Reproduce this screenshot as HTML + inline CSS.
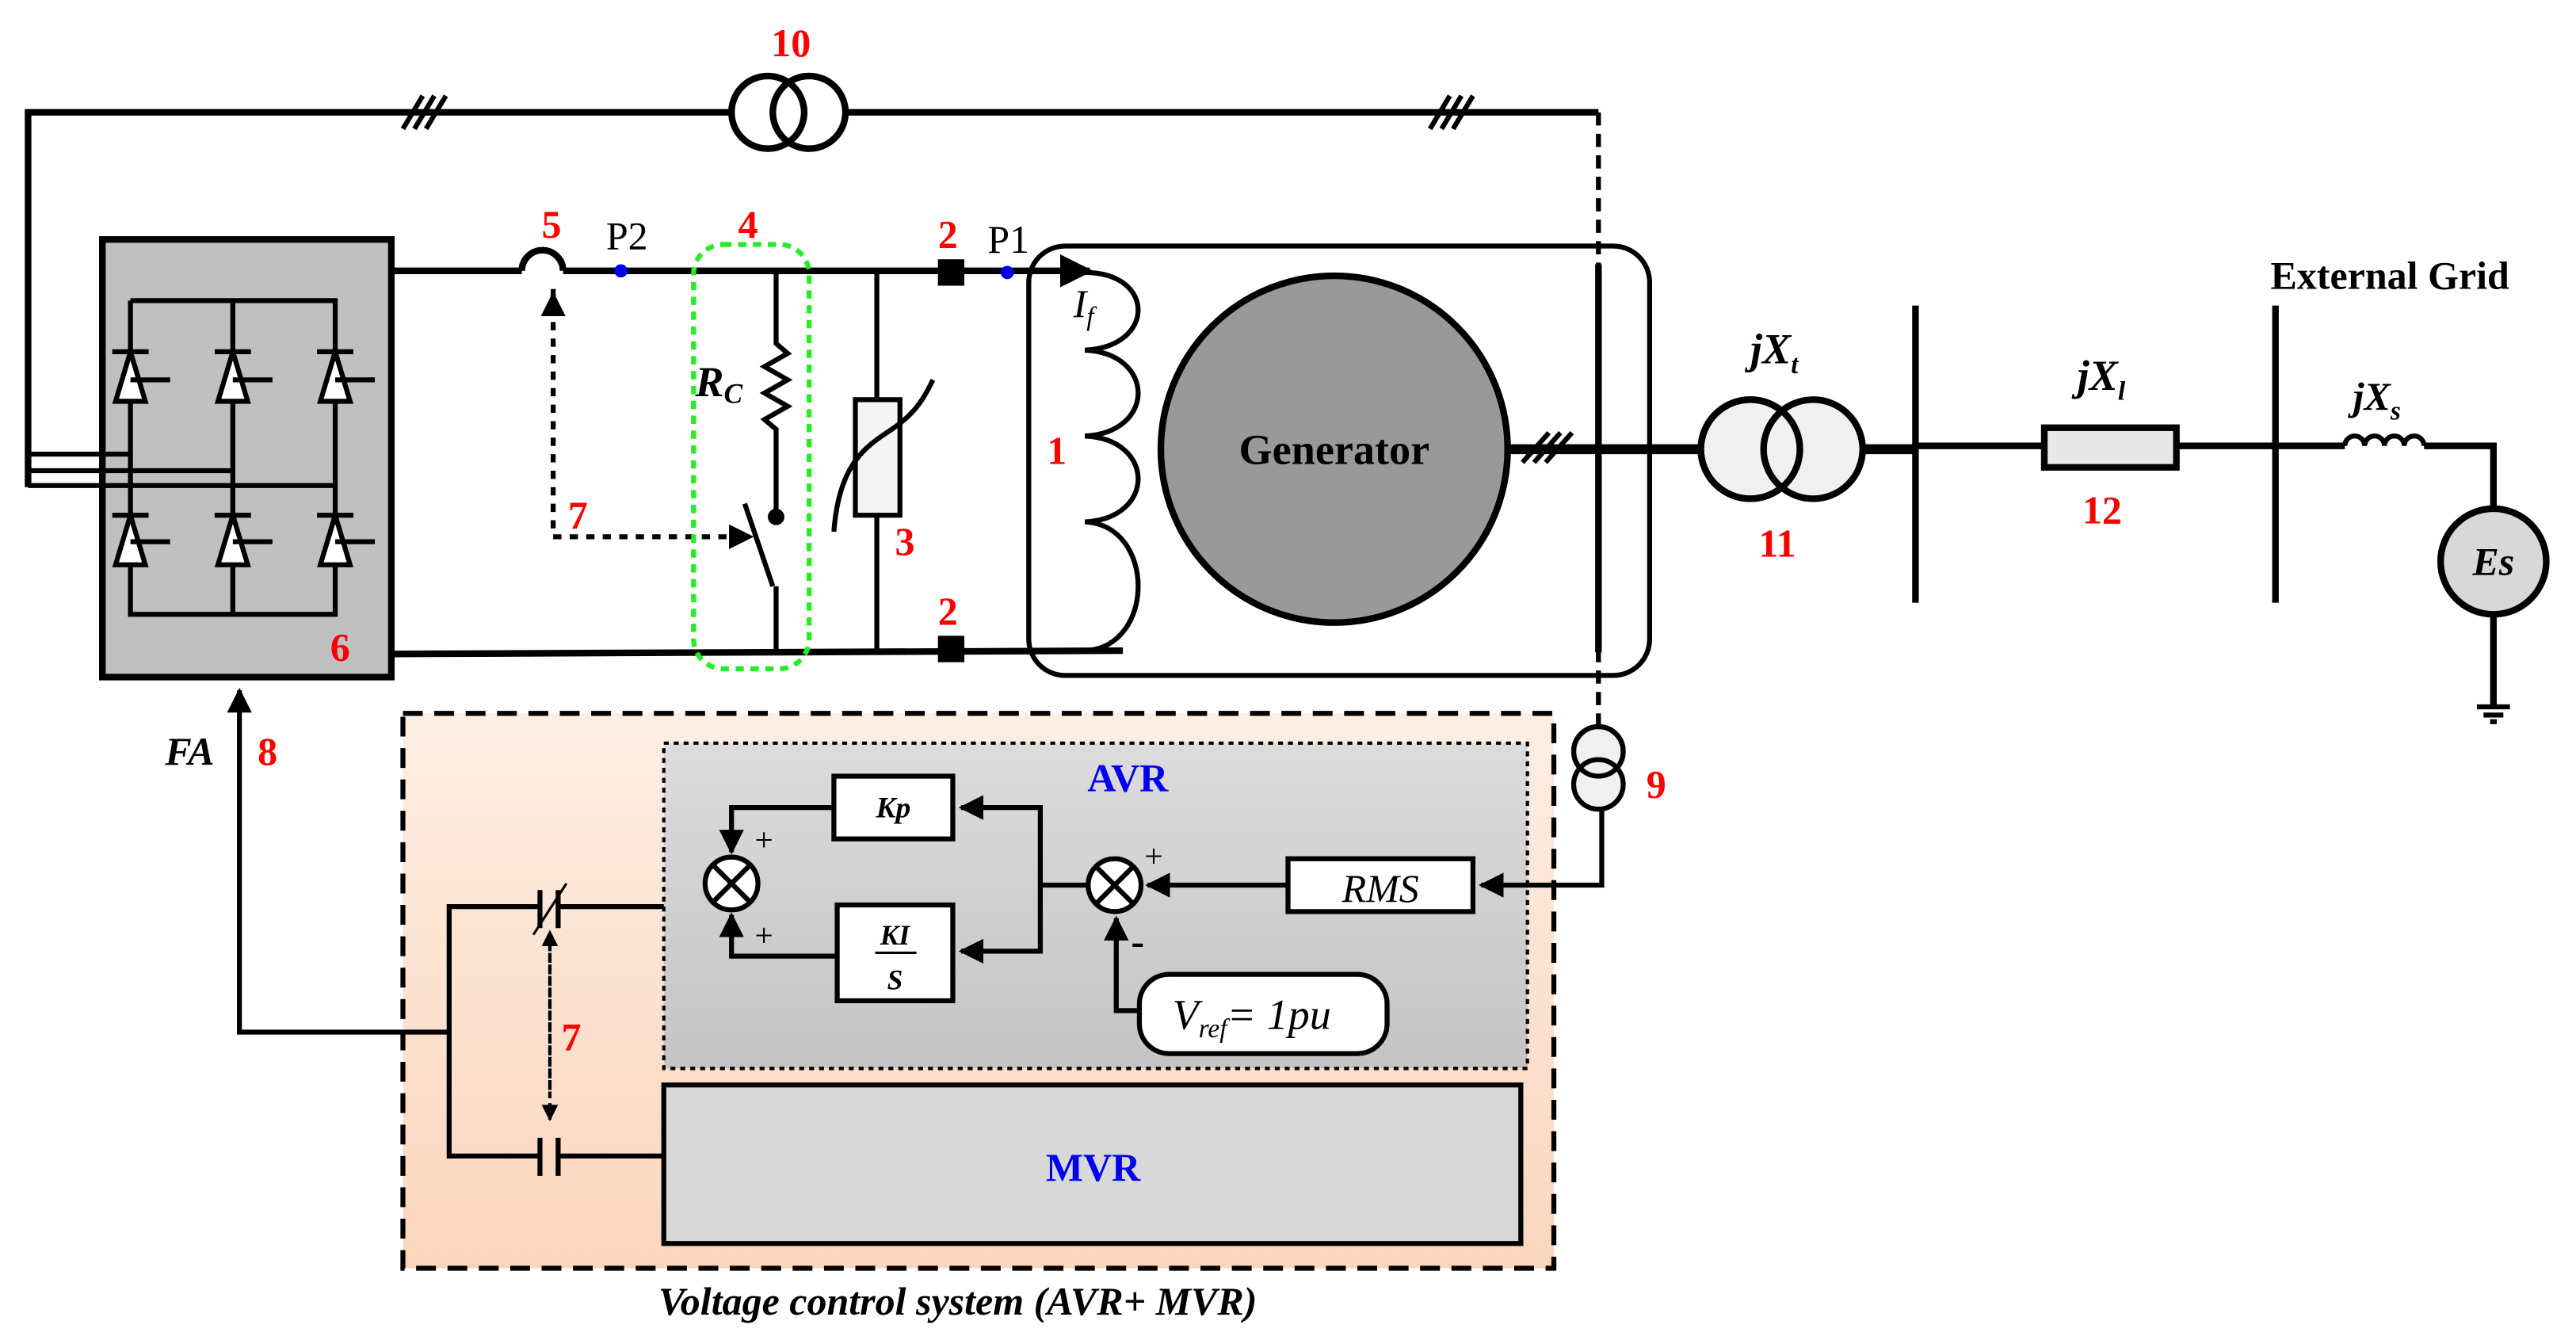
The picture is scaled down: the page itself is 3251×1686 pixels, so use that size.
<!DOCTYPE html>
<html><head><meta charset="utf-8"><style>html,body{margin:0;padding:0;background:#fff}svg{display:block}svg text{font-family:"Liberation Serif","DejaVu Serif",serif}</style></head><body>
<svg width="3251" height="1686" viewBox="0 0 1560 809" xmlns="http://www.w3.org/2000/svg" font-family="Liberation Serif, DejaVu Serif, serif">
<defs>
<marker id="ar" viewBox="0 0 10 10" refX="9" refY="5" markerWidth="5" markerHeight="5" orient="auto"><path d="M0,0L10,5L0,10z" fill="#000"/></marker>
<linearGradient id="pe" x1="0" y1="0" x2="0" y2="1"><stop offset="0" stop-color="#fdeee3"/><stop offset="1" stop-color="#fbd6bd"/></linearGradient>
<linearGradient id="gr" x1="0" y1="0" x2="0" y2="1"><stop offset="0" stop-color="#dcdcdc"/><stop offset="1" stop-color="#c4c4c4"/></linearGradient>
</defs>
<g stroke="#000" fill="none" stroke-width="4">
<polyline points="17,295 17,68 443,68"/>
<line x1="512" y1="68" x2="968" y2="68"/>
<circle cx="465" cy="68" r="22"/><circle cx="490" cy="68" r="22"/>
<g stroke-width="3"><line x1="244" y1="78" x2="256" y2="58"/><line x1="251" y1="78" x2="263" y2="58"/><line x1="258" y1="78" x2="270" y2="58"/>
<line x1="866" y1="78" x2="878" y2="58"/><line x1="873" y1="78" x2="885" y2="58"/><line x1="880" y1="78" x2="892" y2="58"/></g>
<line x1="968" y1="68" x2="968" y2="440" stroke-width="3" stroke-dasharray="8,5"/>
<rect x="62" y="145" width="175" height="265" fill="#c0c0c0"/>
<polyline points="79,182 79,372 203,372 203,182 79,182" stroke-width="3"/>
<line x1="141" y1="182" x2="141" y2="372" stroke-width="3"/>
<g stroke-width="3"><line x1="17" y1="275" x2="79" y2="275"/><line x1="17" y1="285" x2="141" y2="285"/><line x1="17" y1="294" x2="203" y2="294"/></g>
<g stroke-width="3" fill="#fff">
<path d="M68,213H90M79,213L70,243H88Z M79,230H103"/><path d="M130,213H152M141,213L132,243H150Z M141,230H165"/><path d="M192,213H214M203,213L194,243H212Z M203,230H227"/>
<path d="M68,312H90M79,312L70,342H88Z M79,328H103"/><path d="M130,312H152M141,312L132,342H150Z M141,328H165"/><path d="M192,312H214M203,312L194,342H212Z M203,328H227"/>
</g>
<line x1="237" y1="164" x2="316" y2="164"/><path d="M316,164 A10,10 0 0 1 341,164"/>
<line x1="341" y1="164" x2="655" y2="164"/>
<line x1="237" y1="396" x2="680" y2="394"/>
<path d="M655,164L660,164" marker-end="url(#ar)"/>
<polyline points="335,175 335,325 455,325" stroke-width="3" stroke-dasharray="5,5" marker-end="url(#ar)"/>
<line x1="335" y1="185" x2="335" y2="178" stroke-width="3" marker-end="url(#ar)"/>
<polyline points="470,164 470,208 477,214 463,222 477,230 463,238 477,246 463,254 470,260 470,312" stroke-width="3"/>
<circle cx="470" cy="313" r="3" fill="#000"/>
<line x1="451" y1="305" x2="468" y2="355" stroke-width="3"/>
<line x1="470" y1="355" x2="470" y2="394" stroke-width="3"/>
<rect x="420" y="148" width="70" height="257" rx="18" stroke="#22ee22" stroke-width="3" stroke-dasharray="5,4"/>
<line x1="531" y1="164" x2="531" y2="242" stroke-width="3"/>
<rect x="518" y="242" width="27" height="70" fill="#f4f4f4" stroke-width="3"/>
<line x1="531" y1="312" x2="531" y2="394" stroke-width="3"/>
<path d="M505,322 C508,280 525,270 540,260 S560,240 565,230" stroke-width="3"/>
<rect x="623" y="149" width="376" height="260" rx="22" stroke-width="3"/>
<path d="M657,165 C700,165 700,210 657,212 C700,214 700,262 657,264 C700,266 700,314 657,316 C700,318 700,392 657,394" stroke-width="3"/>
<circle cx="808" cy="272" r="105" fill="#999" stroke-width="4"/>
<line x1="913" y1="272" x2="1030" y2="272" stroke-width="6"/>
<g stroke-width="3"><line x1="922" y1="280" x2="938" y2="262"/><line x1="929" y1="280" x2="945" y2="262"/><line x1="936" y1="280" x2="952" y2="262"/></g>
<line x1="968" y1="160" x2="968" y2="395" stroke-width="4"/>
<circle cx="1060" cy="272" r="30" fill="#f0f0f0"/><circle cx="1098" cy="272" r="30" fill="#f0f0f0"/><circle cx="1060" cy="272" r="30"/>
<line x1="1128" y1="272" x2="1160" y2="272" stroke-width="6"/>
<line x1="1160" y1="185" x2="1160" y2="365"/>
<line x1="1160" y1="270" x2="1238" y2="270"/>
<rect x="1238" y="259" width="80" height="24" fill="#e8e8e8"/>
<line x1="1318" y1="270" x2="1420" y2="270"/>
<line x1="1378" y1="185" x2="1378" y2="365"/>
<path d="M1420,270 a6,6 0 0 1 12,0 a6,6 0 0 1 12,0 a6,6 0 0 1 12,0 a6,6 0 0 1 12,0" stroke-width="3"/>
<polyline points="1468,270 1510,270 1510,308"/>
<circle cx="1510" cy="340" r="32" fill="#d8d8d8"/>
<line x1="1510" y1="372" x2="1510" y2="428"/>
<path d="M1500,428H1520M1504,433H1516M1508,437H1512" stroke-width="3"/>
<rect x="568" y="157" width="16" height="16" fill="#000" stroke="none"/>
<rect x="568" y="385" width="16" height="16" fill="#000" stroke="none"/>
<circle cx="376" cy="164" r="4" fill="#0000ee" stroke="none"/>
<circle cx="610" cy="165" r="4" fill="#0000ee" stroke="none"/>
<rect x="244" y="432" width="697" height="336" fill="url(#pe)" stroke-width="3" stroke-dasharray="12,7"/>
<rect x="402" y="450" width="523" height="197" fill="url(#gr)" stroke-width="2" stroke-dasharray="3,3"/>
<rect x="402" y="657" width="519" height="96" fill="#d8d8d8" stroke-width="3"/>
<circle cx="968" cy="455" r="15" fill="#f0f0f0" stroke-width="3"/><circle cx="968" cy="475" r="15" fill="#f0f0f0" stroke-width="3"/><circle cx="968" cy="455" r="15" stroke-width="3"/>
<polyline points="970,490 970,536 897,536" stroke-width="3" marker-end="url(#ar)"/>
<rect x="780" y="520" width="112" height="32" fill="#fff" stroke-width="3"/>
<line x1="780" y1="536" x2="695" y2="536" stroke-width="3" marker-end="url(#ar)"/>
<circle cx="675" cy="536" r="16" fill="#fff" stroke-width="3"/>
<path d="M664,525L686,547M686,525L664,547" stroke-width="3"/>
<rect x="690" y="590" width="150" height="48" rx="18" fill="#fff" stroke-width="3"/>
<polyline points="690,612 676,612 676,556" stroke-width="3" marker-end="url(#ar)"/>
<line x1="659" y1="536" x2="630" y2="536" stroke-width="3"/>
<polyline points="630,536 630,489 582,489" stroke-width="3" marker-end="url(#ar)"/>
<polyline points="630,536 630,576 582,576" stroke-width="3" marker-end="url(#ar)"/>
<rect x="505" y="470" width="72" height="38" fill="#fff" stroke-width="3"/>
<rect x="507" y="548" width="70" height="58" fill="#fff" stroke-width="3"/>
<line x1="530" y1="577" x2="555" y2="577" stroke-width="1.5"/>
<polyline points="505,489 443,489 443,516" stroke-width="3" marker-end="url(#ar)"/>
<polyline points="507,579 443,579 443,554" stroke-width="3" marker-end="url(#ar)"/>
<circle cx="443" cy="535" r="16" fill="#fff" stroke-width="3"/>
<path d="M432,524L454,546M454,524L432,546" stroke-width="3"/>
<line x1="402" y1="549" x2="338" y2="549" stroke-width="3"/>
<line x1="338" y1="539" x2="338" y2="562" stroke-width="3"/><line x1="327" y1="539" x2="327" y2="562" stroke-width="3"/>
<line x1="323" y1="566" x2="343" y2="535" stroke-width="1.5"/>
<polyline points="327,549 272,549 272,700 327,700" stroke-width="3"/>
<line x1="327" y1="689" x2="327" y2="712" stroke-width="3"/><line x1="338" y1="689" x2="338" y2="712" stroke-width="3"/>
<line x1="338" y1="700" x2="402" y2="700" stroke-width="3"/>
<line x1="333" y1="570" x2="333" y2="678" stroke-width="2" stroke-dasharray="4,3" marker-end="url(#ar)"/>
<line x1="333" y1="660" x2="333" y2="564" stroke-width="2" stroke-dasharray="4,3" marker-end="url(#ar)"/>
<polyline points="272,625 145,625 145,418" stroke-width="3" marker-end="url(#ar)"/>
</g>
<g font-weight="bold" fill="#ff0000" font-size="24">
<text x="467" y="34">10</text><text x="328" y="144">5</text><text x="447" y="144">4</text>
<text x="568" y="150">2</text><text x="568" y="378">2</text><text x="634" y="281">1</text>
<text x="542" y="336">3</text><text x="344" y="320">7</text><text x="200" y="400">6</text>
<text x="156" y="463">8</text><text x="997" y="483">9</text><text x="340" y="636">7</text>
<text x="1065" y="337">11</text><text x="1261" y="317">12</text>
</g>
<g fill="#000">
<text x="367" y="151" font-size="24">P2</text><text x="598" y="153" font-size="24">P1</text>
<text x="421" y="240" font-size="26" font-style="italic" font-weight="bold">R<tspan font-size="17" dy="4">C</tspan></text>
<text x="650" y="192" font-size="24" font-style="italic">I<tspan font-size="16" dy="5">f</tspan></text>
<text x="808" y="281" font-size="26" font-weight="bold" text-anchor="middle">Generator</text>
<text x="1375" y="175" font-size="24" font-weight="bold">External Grid</text>
<text x="1060" y="220" font-size="26" font-style="italic" font-weight="bold">jX<tspan font-size="16" dy="6">t</tspan></text>
<text x="1258" y="236" font-size="26" font-style="italic" font-weight="bold">jX<tspan font-size="16" dy="6">l</tspan></text>
<text x="1425" y="248" font-size="24" font-style="italic" font-weight="bold">jX<tspan font-size="16" dy="6">s</tspan></text>
<text x="1510" y="348" font-size="24" font-style="italic" font-weight="bold" text-anchor="middle">Es</text>
<text x="100" y="463" font-size="24" font-style="italic" font-weight="bold">FA</text>
<text x="541" y="495" font-size="18" font-style="italic" font-weight="bold" text-anchor="middle">Kp</text>
<text x="542" y="572" font-size="17" font-style="italic" font-weight="bold" text-anchor="middle">KI</text>
<text x="542" y="599" font-size="17" font-style="italic" font-weight="bold" text-anchor="middle">S</text>
<text x="836" y="546" font-size="24" font-style="italic" text-anchor="middle">RMS</text>
<text x="710" y="623" font-size="26" font-style="italic">V<tspan font-size="16" dy="5">ref</tspan><tspan dy="-5">= 1pu</tspan></text>
<text x="457" y="515" font-size="20">+</text><text x="457" y="573" font-size="20">+</text>
<text x="693" y="525" font-size="20">+</text><text x="685" y="578" font-size="24" font-weight="bold">-</text>
<text x="580" y="796" font-size="24" font-style="italic" font-weight="bold" text-anchor="middle">Voltage control system (AVR+ MVR)</text>
</g>
<g fill="#0000ee" font-weight="bold" font-size="24">
<text x="683" y="479" text-anchor="middle">AVR</text>
<text x="662" y="715" text-anchor="middle">MVR</text>
</g>
</svg>
</body></html>
